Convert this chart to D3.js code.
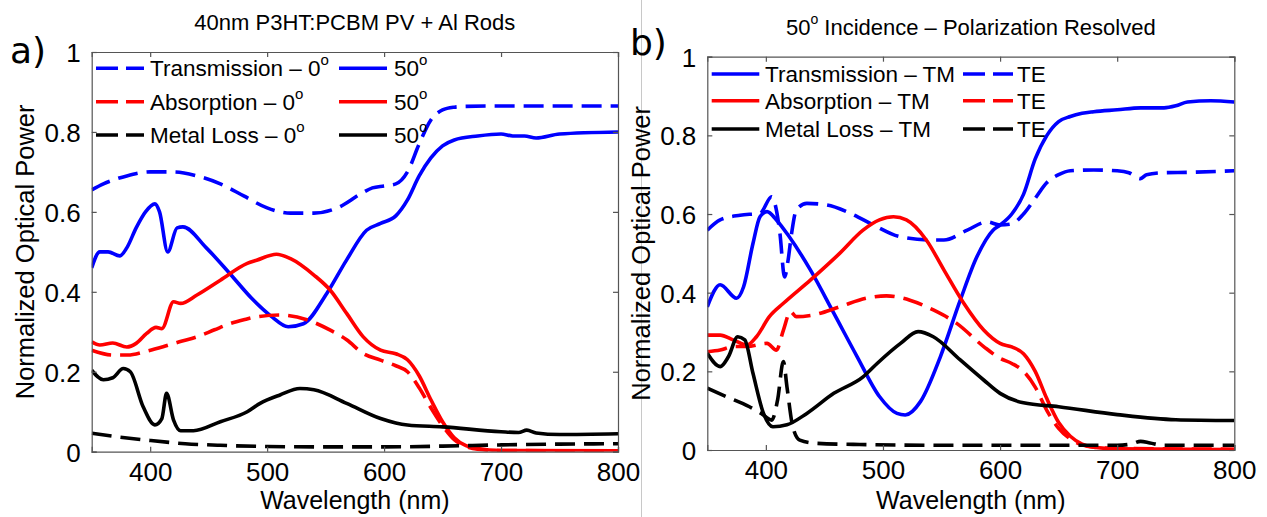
<!DOCTYPE html>
<html><head><meta charset="utf-8">
<script src="https://cdn.jsdelivr.net/npm/d3@7/dist/d3.min.js"></script>
<style>
body{margin:0;background:#fff}
svg text{font-family:"Liberation Sans",Arial,Helvetica,sans-serif;fill:#000}
</style>
</head><body>
<svg id="chart" width="1267" height="517"></svg>
<script>
// ---------- Panel a: 40nm P3HT:PCBM PV + Al rods, 0 vs 50 degree incidence ----------
const aWlTrans0 = [350,360,380,400,420,440,460,480,500,520,540,560,580,590,600,610,620,630,640,650,660,670,700,750,800];
const aTrans0   = [0.655,0.67,0.69,0.70,0.70,0.69,0.67,0.64,0.61,0.597,0.597,0.61,0.645,0.66,0.665,0.67,0.70,0.77,0.83,0.855,0.862,0.864,0.865,0.865,0.865];
const aWlTrans50 = [350,357,364,374,380,388,396,404,408,415,423,428,448,468,488,503,518,531,551,568,585,597,610,620,630,640,650,660,680,700,710,720,730,750,800];
const aTrans50   = [0.46,0.50,0.50,0.49,0.51,0.56,0.60,0.62,0.60,0.50,0.56,0.5625,0.51,0.446,0.38,0.34,0.3125,0.32,0.396,0.48,0.554,0.571,0.59,0.63,0.69,0.735,0.765,0.78,0.79,0.795,0.79,0.79,0.785,0.795,0.80];
const aWlAbs0 = [350,368,381,395,411,425,440,455,468,480,491,511,534,554,568,582,597,610,620,630,640,650,660,670,680,700,800];
const aAbs0   = [0.254,0.242,0.242,0.25,0.2625,0.275,0.2875,0.305,0.32,0.33,0.3375,0.342,0.33,0.304,0.28,0.246,0.229,0.215,0.20,0.16,0.11,0.065,0.03,0.013,0.006,0.003,0.002];
const aWlAbs50 = [350,357,368,380,388,397,405,410,420,426,440,460,483,491,508,520,540,554,568,582,597,610,620,630,640,650,660,670,680,700,800];
const aAbs50   = [0.275,0.267,0.272,0.262,0.271,0.296,0.311,0.308,0.375,0.371,0.392,0.429,0.471,0.479,0.494,0.483,0.442,0.404,0.346,0.288,0.254,0.245,0.23,0.19,0.13,0.075,0.035,0.015,0.008,0.003,0.002];
const aWlLoss0 = [350,370,400,430,460,500,550,600,650,700,750,800];
const aLoss0   = [0.046,0.038,0.028,0.02,0.016,0.013,0.012,0.012,0.014,0.017,0.019,0.02];
const aWlLoss50 = [350,360,368,377,383,394,404,410,414,420,426,437,460,483,494,511,528,540,568,597,610,620,650,700,715,722,730,750,800];
const aLoss50   = [0.204,0.18,0.185,0.208,0.2,0.1125,0.067,0.083,0.146,0.079,0.0525,0.0525,0.075,0.1,0.121,0.142,0.158,0.155,0.121,0.083,0.072,0.067,0.062,0.05,0.048,0.054,0.047,0.043,0.045];

// ---------- Panel b: 50 degree incidence, TM vs TE ----------
const bWlTransTM = [350,361,375,381,389,395,401,409,420,438,458,478,497,512,519,532,549,566,580,594,600,610,620,630,640,650,660,670,680,700,720,740,750,760,780,800];
const bTransTM   = [0.364,0.42,0.386,0.415,0.525,0.593,0.606,0.585,0.542,0.458,0.348,0.237,0.136,0.093,0.089,0.123,0.237,0.381,0.49,0.559,0.572,0.60,0.65,0.74,0.80,0.835,0.848,0.856,0.86,0.865,0.87,0.87,0.875,0.885,0.888,0.885];
const bWlTransTE = [350,361,378,395,405,409,412,416,419,422,426,435,452,472,492,515,543,552,572,589,600,610,620,630,640,650,660,680,700,710,720,725,740,760,800];
const bTransTE   = [0.559,0.585,0.597,0.602,0.644,0.61,0.551,0.44,0.483,0.551,0.61,0.627,0.623,0.602,0.572,0.542,0.534,0.534,0.559,0.58,0.572,0.575,0.60,0.64,0.68,0.70,0.71,0.712,0.71,0.705,0.69,0.70,0.705,0.706,0.71];
const bWlAbsTM = [350,361,372,384,392,403,415,438,463,483,497,509,520,537,552,569,586,600,610,620,630,640,650,660,670,680,700,800];
const bAbsTM   = [0.292,0.292,0.28,0.267,0.288,0.339,0.373,0.432,0.5,0.559,0.585,0.593,0.585,0.534,0.458,0.373,0.305,0.271,0.262,0.245,0.20,0.13,0.07,0.035,0.015,0.007,0.003,0.001];
const bWlAbsTE = [350,361,372,384,401,409,415,421,426,440,463,486,503,523,543,563,586,600,610,620,630,640,650,660,670,680,700,800];
const bAbsTE   = [0.25,0.254,0.263,0.263,0.271,0.254,0.305,0.352,0.339,0.343,0.364,0.386,0.392,0.381,0.356,0.322,0.263,0.233,0.22,0.20,0.16,0.10,0.055,0.028,0.013,0.007,0.004,0.002];
const bWlLossTM = [350,361,368,376,382,389,398,406,418,435,458,483,495,515,530,543,566,586,600,620,650,700,750,800];
const bLossTM   = [0.246,0.212,0.237,0.288,0.28,0.195,0.093,0.059,0.064,0.093,0.144,0.186,0.22,0.271,0.301,0.288,0.229,0.178,0.144,0.12,0.11,0.09,0.077,0.075];
const bWlLossTE = [350,366,386,396,405,410,415,418,423,429,443,480,550,650,700,712,720,728,740,800];
const bLossTE   = [0.157,0.136,0.11,0.093,0.076,0.127,0.225,0.161,0.059,0.025,0.017,0.014,0.012,0.012,0.012,0.015,0.022,0.018,0.012,0.012];

// ---------- Axis ticks and labels ----------
const xTicks = [400,500,600,700,800];
const yTicks = [0,0.2,0.4,0.6,0.8,1];
const yTickLabels = ["0","0.2","0.4","0.6","0.8","1"];
const titleA = "40nm P3HT:PCBM PV + Al Rods";
const titleB = ["50","o"," Incidence \u2013 Polarization Resolved"];
const legendA1 = ["Transmission \u2013 0","Absorption \u2013 0","Metal Loss \u2013 0"];
const legendA2 = ["50","50","50"];
const legendB1 = ["Transmission \u2013 TM","Absorption \u2013 TM","Metal Loss \u2013 TM"];
const legendB2 = ["TE","TE","TE"];
const xLabel = "Wavelength (nm)";
const yLabel = "Normalized Optical Power";

const BLUE = "#0000ff", RED = "#ff0000", BLACK = "#000000";
const DASH = "20,9";
const svg = d3.select("#chart");

// separator between the two panels
svg.append("line").attr("x1",641.5).attr("x2",641.5).attr("y1",0).attr("y2",517)
  .attr("stroke","#c8c8c8").attr("stroke-width",1);

function drawPanel(cfg){
  const x = d3.scaleLinear().domain([350,800]).range([cfg.left,cfg.right]);
  const y = d3.scaleLinear().domain([0,1]).range([cfg.bottom,cfg.top]);
  const g = svg.append("g");
  const clipId = "clip-" + cfg.id;
  g.append("clipPath").attr("id",clipId).append("rect")
    .attr("x",cfg.left).attr("y",cfg.top).attr("width",cfg.right-cfg.left).attr("height",cfg.bottom-cfg.top);

  const line = d3.line().x(d=>x(d[0])).y(d=>y(d[1])).curve(d3.curveMonotoneX);
  const plot = g.append("g").attr("clip-path",`url(#${clipId})`);
  cfg.series.forEach(s=>{
    plot.append("path").datum(d3.zip(s.wl,s.v)).attr("d",line)
      .attr("fill","none").attr("stroke",s.color).attr("stroke-width",3.6)
      .attr("stroke-linejoin","round")
      .attr("stroke-dasharray",s.dash ? DASH : null);
  });

  // axes: inward ticks on all four sides
  const fs = 26;
  const axB = g.append("g").attr("transform",`translate(0,${cfg.bottom})`)
    .call(d3.axisBottom(x).tickValues(xTicks).tickSize(-5).tickPadding(11).tickFormat(d3.format("d")));
  const axT = g.append("g").attr("transform",`translate(0,${cfg.top})`)
    .call(d3.axisTop(x).tickValues(xTicks).tickSize(-5).tickFormat(""));
  const axL = g.append("g").attr("transform",`translate(${cfg.left},0)`)
    .call(d3.axisLeft(y).tickValues(yTicks).tickSize(-5).tickPadding(11).tickFormat((d,i)=>yTickLabels[i]));
  const axR = g.append("g").attr("transform",`translate(${cfg.right},0)`)
    .call(d3.axisRight(y).tickValues(yTicks).tickSize(-5).tickFormat(""));
  [axB,axT,axL,axR].forEach(a=>{
    a.selectAll("path.domain").attr("stroke","#555").attr("stroke-width",1.2);
    a.selectAll(".tick line").attr("stroke","#555").attr("stroke-width",1.2);
    a.selectAll("text").attr("font-size",fs).attr("font-family",null).attr("fill","#000");
  });
  axL.selectAll("text").attr("dy","0.36em");

  // titles and axis labels
  const tt = g.append("text").attr("x",(cfg.left+cfg.right)/2).attr("y",cfg.titleY)
    .attr("text-anchor","middle").attr("font-size",22);
  cfg.title(tt);
  g.append("text").attr("x",(cfg.left+cfg.right)/2).attr("y",509)
    .attr("text-anchor","middle").attr("font-size",25).text(xLabel);
  g.append("text").attr("transform",`translate(${cfg.yLabelX},${(cfg.top+cfg.bottom)/2}) rotate(-90)`)
    .attr("text-anchor","middle").attr("font-size",25.5).text(yLabel);
  g.append("text").attr("x",cfg.tagX).attr("y",cfg.tagY).attr("font-size",36)
    .style("font-family","'DejaVu Sans',sans-serif").text(cfg.tag);

  // legend
  const lg = g.append("g");
  cfg.legend.forEach(it=>{
    lg.append("line").attr("x1",it.x1).attr("x2",it.x2).attr("y1",it.y).attr("y2",it.y)
      .attr("stroke",it.color).attr("stroke-width",3.6).attr("stroke-dasharray",it.dash ? "22,8" : null);
    const t = lg.append("text").attr("x",it.tx).attr("y",it.y).attr("dy","0.36em").attr("font-size",22.5);
    t.append("tspan").text(it.label);
    if(it.sup){ t.append("tspan").attr("font-size",15).attr("dy","-0.75em").text("o"); }
  });
}

// panel a
drawPanel({
  id:"a", left:91.7, right:618, top:52, bottom:451.7, titleY:30,
  yLabelX:34, tag:"a)", tagX:10, tagY:63,
  title:t=>t.text(titleA),
  series:[
    {wl:aWlTrans0, v:aTrans0, color:BLUE, dash:true},
    {wl:aWlTrans50, v:aTrans50, color:BLUE, dash:false},
    {wl:aWlAbs0, v:aAbs0, color:RED, dash:true},
    {wl:aWlAbs50, v:aAbs50, color:RED, dash:false},
    {wl:aWlLoss0, v:aLoss0, color:BLACK, dash:true},
    {wl:aWlLoss50, v:aLoss50, color:BLACK, dash:false}
  ],
  legend:[0,1,2].flatMap(i=>{
    const yy=[68.3,101.7,135][i], c=[BLUE,RED,BLACK][i];
    return [
      {x1:96,x2:144,tx:150,y:yy,color:c,dash:true,label:legendA1[i],sup:true},
      {x1:339,x2:387,tx:394,y:yy,color:c,dash:false,label:legendA2[i],sup:true}
    ];
  })
});

// panel b
drawPanel({
  id:"b", left:707.3, right:1234.3, top:56.7, bottom:450, titleY:35,
  yLabelX:650, tag:"b)", tagX:630, tagY:55,
  title:t=>{
    t.append("tspan").text(titleB[0]);
    t.append("tspan").attr("font-size",14).attr("dy","-0.8em").text(titleB[1]);
    t.append("tspan").attr("dy","0.53em").text(titleB[2]);
  },
  series:[
    {wl:bWlTransTM, v:bTransTM, color:BLUE, dash:false},
    {wl:bWlTransTE, v:bTransTE, color:BLUE, dash:true},
    {wl:bWlAbsTM, v:bAbsTM, color:RED, dash:false},
    {wl:bWlAbsTE, v:bAbsTE, color:RED, dash:true},
    {wl:bWlLossTM, v:bLossTM, color:BLACK, dash:false},
    {wl:bWlLossTE, v:bLossTE, color:BLACK, dash:true}
  ],
  legend:[0,1,2].flatMap(i=>{
    const yy=[74,100.7,129][i], c=[BLUE,RED,BLACK][i];
    return [
      {x1:711.7,x2:759.3,tx:765,y:yy,color:c,dash:false,label:legendB1[i],sup:false},
      {x1:963,x2:1013,tx:1017,y:yy,color:c,dash:true,label:legendB2[i],sup:false}
    ];
  })
});
</script>
</body></html>
